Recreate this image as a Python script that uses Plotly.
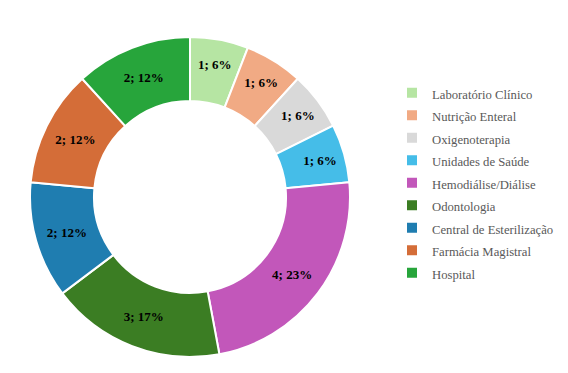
import plotly.graph_objects as go

labels = ["Laboratório Clínico", "Nutrição Enteral", "Oxigenoterapia", "Unidades de Saúde",
          "Hemodiálise/Diálise", "Odontologia", "Central de Esterilização",
          "Farmácia Magistral", "Hospital"]
values = [1, 1, 1, 1, 4, 3, 2, 2, 2]
pct_labels = ["6%", "6%", "6%", "6%", "23%", "17%", "12%", "12%", "12%"]
colors = ["#b6e5a3", "#f1aa84", "#d9d9d9", "#45bde8", "#c257ba",
          "#3b7d23", "#1f7db0", "#d46d38", "#27a53b"]

W, H = 568, 373
cx, cy, r = 182, 189, 160

legend_labels = ['<span style="font-size:12.7px">%s</span>' % l for l in labels]

fig = go.Figure(go.Pie(
    labels=legend_labels,
    values=values,
    customdata=pct_labels,
    texttemplate="%{value}; %{customdata}",
    textposition="inside",
    insidetextorientation="horizontal",
    textfont=dict(family="Liberation Serif", size=13, color="#000000", weight="bold"),
    marker=dict(colors=colors, line=dict(color="white", width=2)),
    hole=0.6,
    sort=False,
    direction="clockwise",
    rotation=0,
    domain=dict(x=[(cx - r) / W, (cx + r) / W], y=[1 - (cy + r) / H, 1 - (cy - r) / H]),
))

fig.update_layout(
    width=W, height=H,
    margin=dict(l=0, r=0, t=0, b=0),
    paper_bgcolor="white",
    plot_bgcolor="white",
    showlegend=True,
    legend=dict(
        x=384 / W, xanchor="left",
        y=1 - 175 / H, yanchor="middle",
        font=dict(family="Liberation Serif", size=15, color="#595959"),
        traceorder="normal",
        bgcolor="rgba(0,0,0,0)",
    ),
    font=dict(family="Liberation Serif"),
)

fig.write_html("out.html")
